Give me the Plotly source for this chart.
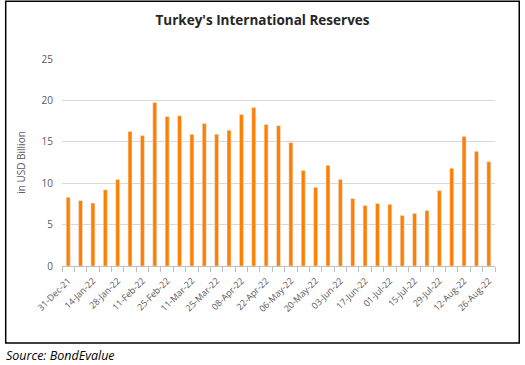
import plotly.graph_objects as go

dates = ["31-Dec-21", "07-Jan-22", "14-Jan-22", "21-Jan-22", "28-Jan-22", "04-Feb-22",
         "11-Feb-22", "18-Feb-22", "25-Feb-22", "04-Mar-22", "11-Mar-22", "18-Mar-22",
         "25-Mar-22", "01-Apr-22", "08-Apr-22", "15-Apr-22", "22-Apr-22", "29-Apr-22",
         "06-May-22", "13-May-22", "20-May-22", "27-May-22", "03-Jun-22", "10-Jun-22",
         "17-Jun-22", "24-Jun-22", "01-Jul-22", "08-Jul-22", "15-Jul-22", "22-Jul-22",
         "29-Jul-22", "05-Aug-22", "12-Aug-22", "19-Aug-22", "26-Aug-22"]
reserves = [8.3, 7.9, 7.6, 9.2, 10.45, 16.25, 15.75, 19.75, 18.05, 18.15, 15.9, 17.2,
            15.9, 16.4, 18.3, 19.15, 17.1, 16.95, 14.9, 11.55, 9.5, 12.15, 10.45, 8.15,
            7.3, 7.55, 7.45, 6.1, 6.35, 6.7, 9.1, 11.8, 15.65, 13.85, 12.6]
y_ticks = [0, 5, 10, 15, 20, 25]

idx = list(range(len(dates)))
tick_idx = idx[::2]
tick_txt = [dates[i] for i in tick_idx]

fig = go.Figure()
fig.add_trace(go.Bar(x=idx, y=reserves, marker_color="#FF8000", width=0.32,
                     hovertext=dates))

grey = "#595959"
fig.update_layout(
    width=525, height=365,
    margin=dict(l=62, r=30, t=59, b=99),
    paper_bgcolor="white", plot_bgcolor="white",
    showlegend=False,
    font=dict(family="Open Sans, Liberation Sans, sans-serif", color=grey, size=9),
    title=dict(text="<b>Turkey's International Reserves</b>", x=0.5, xanchor="center",
               y=1 - 20 / 365, yanchor="middle",
               font=dict(size=13.5, color="#262626", family="Open Sans, sans-serif")),
    xaxis=dict(range=[-0.5, len(dates) - 0.5], tickmode="array", tickvals=tick_idx,
               ticktext=tick_txt, tickangle=-45, ticks="", showgrid=False,
               showline=True, linecolor="#bfbfbf", linewidth=1, zeroline=False,
               automargin=False, ticklabelstandoff=5,
               tickfont=dict(size=9, color=grey),
               minor=dict(ticks="outside", tick0=-0.5, dtick=1, ticklen=5,
                          tickcolor="#bfbfbf", showgrid=False)),
    yaxis=dict(range=[0, 25], tickvals=y_ticks, showgrid=True, gridcolor="#d9d9d9",
               gridwidth=1, zeroline=False, showline=False, ticks="",
               automargin=False, ticklabelstandoff=8,
               tickfont=dict(size=10, color=grey),
               title=dict(text="in USD Billion", font=dict(size=10, color=grey),
                          standoff=14)),
)

fig.add_shape(type="rect", xref="paper", yref="paper",
              x0=-0.130, x1=1.056, y0=-0.3725, y1=1.279,
              line=dict(color="black", width=1.5), fillcolor="rgba(0,0,0,0)")
fig.add_annotation(text="<i>Source: BondEvalue</i>", xref="paper", yref="paper",
                   x=-0.134, y=-0.43, xanchor="left", yanchor="middle", showarrow=False,
                   font=dict(size=12.5, color="black", family="Open Sans, sans-serif"))

fig.write_html("out.html", config={"displayModeBar": False},
               post_script="document.body.style.margin='0';document.body.style.overflow='hidden';")
